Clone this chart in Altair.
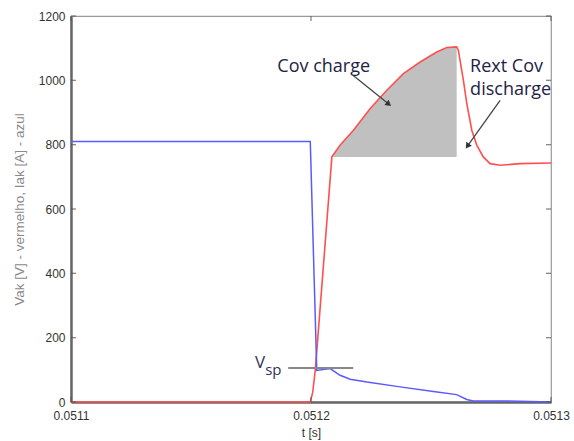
import altair as alt
import pandas as pd

# ---- data ----
t_iak = [0.0511, 0.0511997, 0.0512024, 0.0512080, 0.0512121, 0.0512163, 0.0512233,
         0.0512371, 0.0512510, 0.0512607, 0.0512649, 0.0512676, 0.0512816, 0.0513]
iak = [810, 810, 98, 104, 83, 71, 62, 47, 33, 23, 8, 3, 3, 0]

t_vak = [0.0511, 0.0511997, 0.0512007, 0.0512018, 0.0512087, 0.0512121, 0.0512177,
         0.0512246, 0.0512316, 0.0512385, 0.0512455, 0.0512524, 0.0512566, 0.0512607,
         0.0512614, 0.0512635, 0.0512649, 0.0512670, 0.0512691, 0.0512718, 0.0512746,
         0.0512788, 0.0512871, 0.0513]
vak = [0, 0, 30, 100, 762, 798, 845, 912, 969, 1021, 1057, 1088, 1102, 1104,
       1093, 1000, 928, 845, 798, 762, 741, 736, 741, 743]

fill_start, fill_end, fill_base = 0.0512087, 0.0512607, 762

x_ticks = [0.0511, 0.0512, 0.0513]
y_ticks = [0, 200, 400, 600, 800, 1000, 1200]

vsp_t = [0.0511905, 0.0512176]
vsp_v = 106

arrow_t1 = [0.0512176, 0.0512788]
arrow_v1 = [1015, 938]
arrow_t2 = [0.0512321, 0.0512654]
arrow_v2 = [928, 798]
arrow_angle = [129, 215]

labels_txt = ["Cov charge", "Rext Cov", "discharge"]
labels_t = [0.0512053, 0.0512663, 0.0512663]
labels_v = [1043, 1041, 969]

# ---- tables ----
df_i = pd.DataFrame({"t": t_iak, "v": iak})
df_v = pd.DataFrame({"t": t_vak, "v": vak})
df_fill = df_v[(df_v.t >= fill_start) & (df_v.t <= fill_end)].copy()
df_fill["base"] = fill_base
df_arrows = pd.DataFrame({"t1": arrow_t1, "v1": arrow_v1, "t2": arrow_t2,
                          "v2": arrow_v2, "ang": arrow_angle})
df_lbl = pd.DataFrame({"txt": labels_txt, "t": labels_t, "v": labels_v,
                       "al": ["center", "left", "left"]})
df_yt = pd.DataFrame({"v": y_ticks})
df_xt = pd.DataFrame({"t": x_ticks})

xs = alt.Scale(domain=[0.0511, 0.0513], nice=False, zero=False)
ys = alt.Scale(domain=[0, 1200], nice=False)

X = alt.X("t:Q", scale=xs,
          axis=alt.Axis(values=x_ticks, format=".4f", title="t [s]", ticks=False,
                        grid=False, domainColor="#666", domainWidth=2.5, labelFlush=False,
                        labelFontSize=12, labelColor="#333", labelPadding=8,
                        titleFontSize=12, titleColor="#333", titleFontWeight="normal",
                        titlePadding=6, labelFont="Liberation Sans", titleFont="Liberation Sans"))
Y = alt.Y("v:Q", scale=ys,
          axis=alt.Axis(values=y_ticks, format="d",
                        title="Vak [V] - vermelho, Iak [A] - azul", ticks=False,
                        grid=False, domainColor="#666", domainWidth=2.5, labelFlush=False,
                        labelFontSize=12, labelColor="#333", labelPadding=6,
                        titleFontSize=13.5, titleColor="#8a8a8a", titleFontWeight="normal",
                        titlePadding=12, labelFont="Liberation Sans", titleFont="Liberation Sans"))

fill = alt.Chart(df_fill).mark_area(color="#c0c0c0", opacity=1).encode(
    x=alt.X("t:Q", scale=xs), y=alt.Y("v:Q", scale=ys), y2="base:Q")

red = alt.Chart(df_v).mark_line(color="#ff5050", strokeWidth=1.6).encode(x=X, y=Y)
blue = alt.Chart(df_i).mark_line(color="#5a5aff", strokeWidth=1.5).encode(
    x=alt.X("t:Q", scale=xs), y=alt.Y("v:Q", scale=ys))

vsp_line = alt.Chart(pd.DataFrame({"t": [vsp_t[0]], "t2": [vsp_t[1]], "v": [vsp_v]})).mark_rule(
    color="#888", strokeWidth=2).encode(
    x=alt.X("t:Q", scale=xs), x2="t2:Q", y=alt.Y("v:Q", scale=ys))

vsp_v_txt = alt.Chart(pd.DataFrame({"t": [0.0511788], "v": [122]})).mark_text(
    text="V", fontSize=17, font="Open Sans", color="#333355", align="center",
    baseline="middle").encode(x=alt.X("t:Q", scale=xs), y=alt.Y("v:Q", scale=ys))
vsp_s_txt = alt.Chart(pd.DataFrame({"t": [0.0511809], "v": [101]})).mark_text(
    text="sp", fontSize=15, font="Open Sans", color="#333355", align="left",
    baseline="middle").encode(x=alt.X("t:Q", scale=xs), y=alt.Y("v:Q", scale=ys))

arrow_lines = alt.Chart(df_arrows).mark_rule(color="#444", strokeWidth=1.3).encode(
    x=alt.X("t1:Q", scale=xs), y=alt.Y("v1:Q", scale=ys), x2="t2:Q", y2="v2:Q")
arrow_heads = alt.Chart(df_arrows).mark_point(
    shape="triangle", filled=True, color="#333", size=45, opacity=1).encode(
    x=alt.X("t2:Q", scale=xs), y=alt.Y("v2:Q", scale=ys),
    angle=alt.Angle("ang:Q", scale=None))

lbl_c = alt.Chart(df_lbl[df_lbl.al == "center"]).mark_text(
    fontSize=18, font="Open Sans", color="#222244", align="center", baseline="middle").encode(
    x=alt.X("t:Q", scale=xs), y=alt.Y("v:Q", scale=ys), text="txt:N")
lbl_l = alt.Chart(df_lbl[df_lbl.al == "left"]).mark_text(
    fontSize=18, font="Open Sans", color="#222244", align="left", baseline="middle").encode(
    x=alt.X("t:Q", scale=xs), y=alt.Y("v:Q", scale=ys), text="txt:N")

tick_l = alt.Chart(df_yt).mark_tick(orient="horizontal", size=5, thickness=1.3,
                                    color="#555", xOffset=2.5).encode(
    x=alt.datum(0.0511, scale=xs), y=alt.Y("v:Q", scale=ys))
tick_r = alt.Chart(df_yt).mark_tick(orient="horizontal", size=5, thickness=1.3,
                                    color="#555", xOffset=-2.5).encode(
    x=alt.datum(0.0513, scale=xs), y=alt.Y("v:Q", scale=ys))
tick_b = alt.Chart(df_xt).mark_tick(orient="vertical", size=5, thickness=1.3,
                                    color="#555", yOffset=-2.5).encode(
    x=alt.X("t:Q", scale=xs), y=alt.datum(0, scale=ys))
tick_t = alt.Chart(df_xt).mark_tick(orient="vertical", size=5, thickness=1.3,
                                    color="#555", yOffset=2.5).encode(
    x=alt.X("t:Q", scale=xs), y=alt.datum(1200, scale=ys))

chart = alt.layer(
    fill, red, blue, vsp_line, vsp_v_txt, vsp_s_txt, arrow_lines, arrow_heads,
    lbl_c, lbl_l, tick_l, tick_r, tick_b, tick_t
).properties(
    width=480, height=386,
    autosize=alt.AutoSizeParams(type="none"),
    padding={"left": 71, "top": 16, "right": 23, "bottom": 39},
    background="white",
).configure_view(stroke="#999", strokeWidth=1.2)

chart.save("out.html", embed_options={"renderer": "svg", "actions": False})
